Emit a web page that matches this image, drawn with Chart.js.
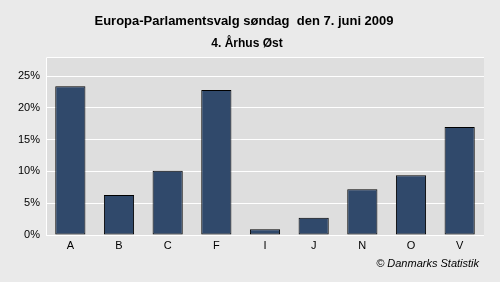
<!DOCTYPE html>
<html>
<head>
<meta charset="utf-8">
<script src="https://cdn.jsdelivr.net/npm/chart.js@4/dist/chart.umd.min.js"></script>
<style>
  html, body { margin: 0; padding: 0; background: #eaeaea; }
  #wrap { width: 500px; height: 282px; }
</style>
</head>
<body>
<div id="wrap"><canvas id="chart"></canvas></div>
<script>
// DATA
const parties = ['A', 'B', 'C', 'F', 'I', 'J', 'N', 'O', 'V'];
const shares = [23.4, 6.3, 10.1, 22.8, 0.9, 2.7, 7.2, 9.4, 17.0];
const yTicks = [0, 5, 10, 15, 20, 25];

const titleText = 'Europa-Parlamentsvalg søndag  den 7. juni 2009';
const subtitleText = '4. Århus Øst';
const footerText = '© Danmarks Statistik';

// background, plot area and texts
const decor = {
  id: 'decor',
  beforeDraw(chart) {
    const c = chart.ctx, a = chart.chartArea;
    c.save();
    c.fillStyle = '#eaeaea';
    c.fillRect(0, 0, chart.width, chart.height);
    c.fillStyle = '#dedede';
    c.fillRect(a.left, a.top, a.right - a.left, a.bottom - a.top);
    c.strokeStyle = '#ffffff';
    c.lineWidth = 1;
    c.beginPath();
    c.moveTo(a.left + 0.5, a.bottom);
    c.lineTo(a.left + 0.5, a.top + 0.5);
    c.lineTo(a.right, a.top + 0.5);
    c.stroke();
    c.restore();
  },
  afterDraw(chart) {
    const c = chart.ctx;
    c.save();
    c.fillStyle = '#000';
    c.textAlign = 'center';
    c.textBaseline = 'middle';
    c.font = 'bold 13px "Liberation Sans", Arial, sans-serif';
    c.fillText(titleText, 244, 21);
    c.font = 'bold 12px "Liberation Sans", Arial, sans-serif';
    c.fillText(subtitleText, 247, 44);
    c.font = 'italic 11px "Liberation Sans", Arial, sans-serif';
    c.textAlign = 'right';
    c.fillText(footerText, 479, 264);
    c.restore();
  }
};

new Chart(document.getElementById('chart'), {
  type: 'bar',
  data: {
    labels: parties,
    datasets: [{
      data: shares,
      backgroundColor: '#30496b',
      borderColor: '#000000',
      borderWidth: 1,
      borderSkipped: false,
      categoryPercentage: 1,
      barPercentage: 0.62
    }]
  },
  options: {
    responsive: true,
    maintainAspectRatio: false,
    animation: false,
    layout: { padding: { left: 0, right: 16, top: 57, bottom: 19 } },
    plugins: {
      legend: { display: false },
      tooltip: { enabled: false }
    },
    scales: {
      x: {
        grid: { display: false },
        border: { display: false },
        ticks: { color: '#000', font: { size: 11, family: '"Liberation Sans", Arial, sans-serif' }, padding: -4 },
        afterFit: s => { s.height = 28; }
      },
      y: {
        min: 0,
        max: 28,
        afterBuildTicks: s => { s.ticks = yTicks.map(v => ({ value: v })); },
        grid: { color: '#ffffff', lineWidth: 1, drawTicks: false },
        border: { display: false },
        ticks: {
          color: '#000',
          font: { size: 11, family: '"Liberation Sans", Arial, sans-serif' },
          padding: 6,
          callback: v => v + '%'
        },
        afterFit: s => { s.width = 46; }
      }
    }
  },
  plugins: [decor]
});
</script>
</body>
</html>
